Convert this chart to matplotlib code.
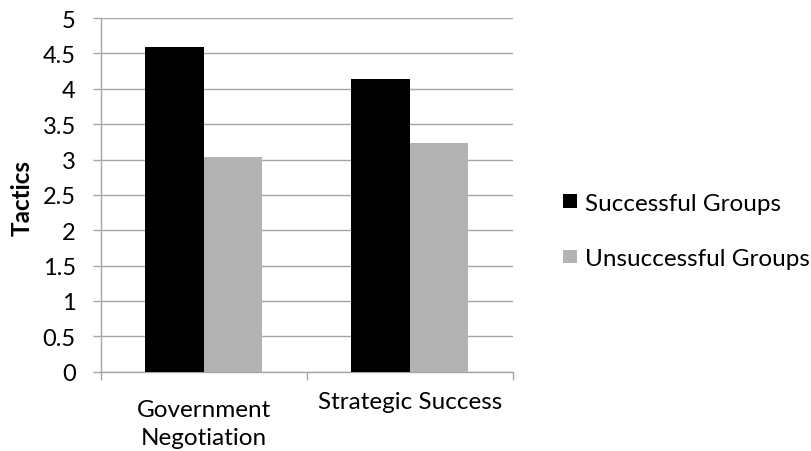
import matplotlib
matplotlib.use("Agg")
import matplotlib.pyplot as plt
import matplotlib.transforms as mtransforms
import numpy as np

categories = ["Government\nNegotiation", "Strategic Success"]
series_names = ["Successful Groups", "Unsuccessful Groups"]
successful = [4.59, 4.14]
unsuccessful = [3.04, 3.23]
y_ticks = [0, 0.5, 1, 1.5, 2, 2.5, 3, 3.5, 4, 4.5, 5]
y_tick_labels = ["0", "0.5", "1", "1.5", "2", "2.5", "3", "3.5", "4", "4.5", "5"]

plt.rcParams["font.family"] = ["Lato", "DejaVu Sans"]
FS = 17.5

fig = plt.figure(figsize=(8.11, 4.52), dpi=100)
ax = fig.add_axes([0.1242, 0.1754, 0.508, 0.7825])

grid_color = "#a6a6a6"
x = np.arange(len(categories))
w = 0.283
ax.bar(x - w / 2, successful, width=w, color="black", label=series_names[0], zorder=3)
ax.bar(x + w / 2, unsuccessful, width=w, color="#b3b3b3", label=series_names[1], zorder=3)

ax.set_xlim(-0.5, len(categories) - 0.5)
ax.set_ylim(0, 5)
ax.set_yticks(y_ticks)
ax.set_yticklabels(y_tick_labels)
ax.yaxis.grid(True, color=grid_color, linewidth=1.0, zorder=0)

# category labels at centers, tick marks at category boundaries
ax.set_xticks(x)
ax.set_xticklabels(categories)
ax.set_xticks(np.arange(len(categories) + 1) - 0.5, minor=True)
ax.tick_params(axis="x", which="major", length=0, pad=14, labelsize=FS)
ax.tick_params(axis="x", which="minor", length=6, width=1.0, color=grid_color)
ax.tick_params(axis="y", length=6, width=1.0, color=grid_color, pad=12, labelsize=17)

# the two-line category label sits a little lower
multi = ax.get_xticklabels()[0]
multi.set_linespacing(1.4)
multi.set_transform(multi.get_transform() +
                    mtransforms.ScaledTranslation(0, -8 / 100, fig.dpi_scale_trans))

for side in ["top", "right"]:
    ax.spines[side].set_visible(False)
for side in ["left", "bottom"]:
    ax.spines[side].set_color(grid_color)
    ax.spines[side].set_linewidth(1.0)

ax.set_ylabel("Tactics", fontsize=FS, fontweight="bold")
ax.yaxis.set_label_coords(-0.162, 0.494)

leg = fig.legend(loc="center left", bbox_to_anchor=(0.694, 0.487), frameon=False,
                 fontsize=FS, handlelength=0.58, handleheight=0.5, handletextpad=0.33,
                 labelspacing=1.42, borderpad=0, borderaxespad=0)

fig.savefig("out.png", dpi=100)
